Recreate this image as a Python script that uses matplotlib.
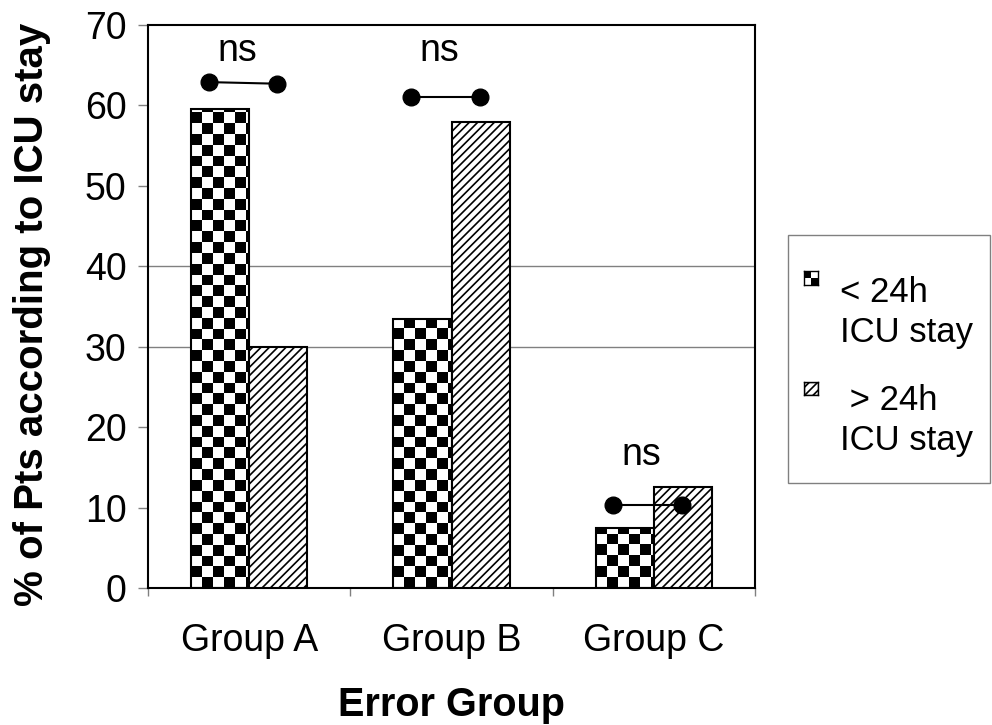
import numpy as np
import matplotlib
matplotlib.use('Agg')
import matplotlib.pyplot as plt
from matplotlib.patches import Rectangle

# data
groups = ['Group A', 'Group B', 'Group C']
under_24h = [59.5, 33.4, 7.4]
over_24h = [30.0, 57.9, 12.6]
# significance markers: left dot / right dot heights, text and its level
sig_left = [62.9, 61.0, 10.3]
sig_right = [62.7, 61.0, 10.3]
sig_text = ['ns', 'ns', 'ns']
sig_text_y = [65.5, 65.5, 15.3]
yticks = [0, 10, 20, 30, 40, 50, 60, 70]
legend_labels = [('< 24h', 'ICU stay'), (' > 24h', 'ICU stay')]

plt.rcParams['font.family'] = ['Liberation Sans', 'DejaVu Sans']
plt.rcParams['hatch.linewidth'] = 1.2

W, H = 992., 725.
GRAY = '#808080'
fig = plt.figure(figsize=(W / 100, H / 100), dpi=100)
ax = fig.add_axes([148 / W, 1 - 588 / H, (755 - 148) / W, (588 - 25) / H])

x = np.arange(len(groups))
width = 0.287
ax.set_xlim(-0.5, len(groups) - 0.5)
ax.set_ylim(0, 70)

# excel only kept a couple of gridlines
for lvl in [30, 40]:
	ax.axhline(lvl, color=GRAY, lw=1, zorder=1)

b1 = ax.bar(x - width / 2, under_24h, width, facecolor='none', edgecolor='black', lw=1.5, zorder=3)
b2 = ax.bar(x + width / 2, over_24h, width, facecolor='white', edgecolor='black',
			hatch='////', lw=1.5, zorder=3)

# checkerboard fill, clipped to each bar
cell = 10.8  # px
ax_w = W * ax.get_position().width
ax_h = H * ax.get_position().height
dx = cell * (len(groups)) / ax_w
dy = cell * 70 / ax_h
for bar in b1:
	x0 = bar.get_x()
	nx = int(np.ceil(bar.get_width() / dx)) + 1
	ny = int(np.ceil(bar.get_height() / dy)) + 1
	board = np.add.outer(np.arange(ny), np.arange(nx)) % 2
	im = ax.imshow(board, cmap='gray_r', vmin=0, vmax=1, origin='lower', interpolation='nearest',
				   extent=[x0, x0 + nx * dx, 0, ny * dy], aspect='auto', zorder=2.5)
	im.set_clip_path(bar)
ax.set_xlim(-0.5, len(groups) - 0.5)
ax.set_ylim(0, 70)

# ns brackets
for i in range(len(groups)):
	ax.plot([x[i] - 0.2, x[i] + 0.14], [sig_left[i], sig_right[i]], '-o', color='black',
			ms=12, lw=1.5, zorder=4, clip_on=False)
	ax.text(x[i] - 0.06, sig_text_y[i], sig_text[i], ha='center', va='baseline', fontsize=27)

ax.set_yticks(yticks)
ax.tick_params(axis='y', direction='out', length=7.5, width=1, color=GRAY, pad=8, labelsize=27)
ax.set_xticks(x)
ax.set_xticklabels(groups)
ax.tick_params(axis='x', which='major', length=0, pad=25, labelsize=27)
ax.set_xticks(np.arange(len(groups) + 1) - 0.5, minor=True)
ax.tick_params(axis='x', which='minor', direction='out', length=6, width=1, color=GRAY)

for s in ax.spines.values():
	s.set_color('black')
	s.set_linewidth(1.5)

ax.set_ylabel('% of Pts according to ICU stay', fontsize=29, fontweight='bold')
ax.yaxis.label.set_va('center')
ax.yaxis.set_label_coords(-0.191, 0.486)
ax.set_xlabel('Error Group', fontsize=28.5, fontweight='bold')
ax.xaxis.set_label_coords(0.5, -0.174)

# legend drawn by hand (excel-like layout)
fig.add_artist(Rectangle((788 / W, 1 - 483 / H), (990 - 788) / W, (483 - 235) / H,
						 transform=fig.transFigure, fill=False, edgecolor=GRAY, lw=1))

lax = fig.add_axes([804 / W, 1 - 285 / H, 14 / W, 14 / H])
lax.imshow([[1, 0], [0, 1]], cmap='gray_r', vmin=0, vmax=1, interpolation='nearest', aspect='auto')
lax2 = fig.add_axes([804 / W, 1 - 395 / H, 14 / W, 13 / H])
lax2.add_patch(Rectangle((0, 0), 1, 1, facecolor='white', edgecolor='black', hatch='////',
						 transform=lax2.transAxes))
for a in (lax, lax2):
	a.set_xticks([])
	a.set_yticks([])
	for s in a.spines.values():
		s.set_linewidth(1)
		s.set_color('black')

base = [(301.7, 341.7), (410, 450)]
for (l1, l2), (y1, y2) in zip(legend_labels, base):
	fig.text(840 / W, 1 - y1 / H, l1, fontsize=25, va='baseline')
	fig.text(840 / W, 1 - y2 / H, l2, fontsize=25, va='baseline')

plt.savefig('out.png', dpi=100)
